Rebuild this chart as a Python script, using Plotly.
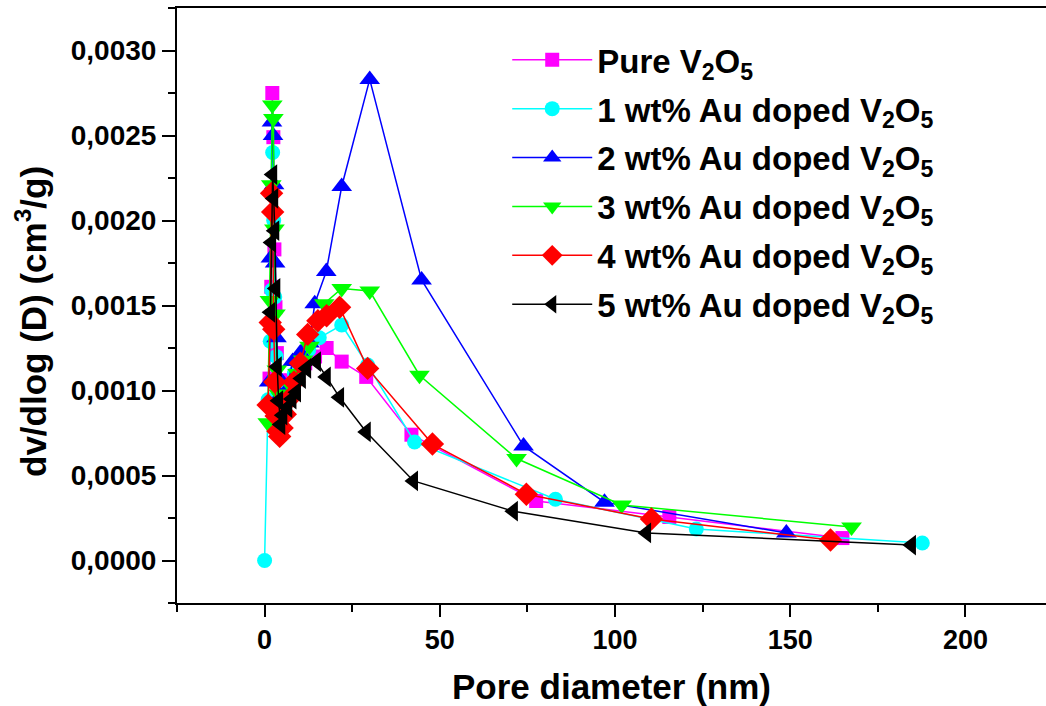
import plotly.graph_objects as go

# Pore size distribution (BJH) for pure and Au-doped V2O5
x_pure = [1.4, 1.9, 2.2, 2.5, 2.8, 3.1, 3.5, 4.0, 4.6, 5.4, 6.4, 7.7, 9.4, 11.6, 14.4, 17.7, 22.0, 29.0, 41.9, 77.5, 115.5, 164.9]
y_pure = [1.07, 1.61, 2.75, 2.49, 1.83, 1.49, 1.22, 1.06, 0.98, 0.94, 0.99, 1.06, 1.12, 1.16, 1.20, 1.25, 1.17, 1.08, 0.74, 0.35, 0.256, 0.132]

x_au1 = [0.0, 1.0, 1.6, 2.0, 2.3, 2.6, 2.9, 3.3, 3.8, 4.4, 5.1, 6.0, 7.1, 8.5, 10.3, 12.6, 15.6, 22.0, 29.4, 42.8, 83.0, 123.2, 187.7]
y_au1 = [0.0, 0.945, 1.29, 1.59, 2.40, 2.00, 1.55, 1.20, 1.02, 0.95, 0.92, 0.95, 1.02, 1.10, 1.17, 1.24, 1.31, 1.385, 1.15, 0.697, 0.36, 0.185, 0.103]

x_au2 = [1.3, 1.8, 2.1, 2.4, 2.7, 3.0, 3.4, 3.9, 4.5, 5.3, 6.3, 8.0, 10.2, 12.8, 14.3, 17.6, 22.0, 30.0, 44.8, 73.9, 97.0, 148.9]
y_au2 = [1.05, 1.78, 2.58, 2.50, 2.21, 1.75, 1.31, 1.08, 0.97, 0.95, 1.00, 1.17, 1.22, 1.28, 1.51, 1.70, 2.20, 2.83, 1.65, 0.674, 0.343, 0.162]

x_au3 = [0.9, 1.5, 1.9, 2.2, 2.5, 2.8, 3.1, 3.5, 4.0, 4.6, 5.4, 6.4, 7.7, 9.4, 11.0, 12.8, 17.0, 22.0, 30.0, 44.2, 71.9, 101.9, 167.5]
y_au3 = [0.81, 1.53, 2.21, 2.68, 2.60, 1.95, 1.45, 1.12, 0.98, 0.92, 0.90, 0.95, 1.02, 1.10, 1.18, 1.26, 1.51, 1.60, 1.585, 1.09, 0.60, 0.327, 0.197]

x_au4 = [1.0, 1.6, 2.0, 2.3, 2.6, 2.9, 3.3, 3.8, 4.3, 5.0, 5.9, 7.0, 8.4, 10.2, 12.3, 15.2, 17.7, 21.4, 29.4, 47.9, 74.7, 110.4, 161.5]
y_au4 = [0.915, 1.40, 2.16, 2.05, 1.36, 1.05, 0.85, 0.76, 0.73, 0.78, 0.86, 0.95, 1.05, 1.16, 1.33, 1.41, 1.44, 1.49, 1.13, 0.685, 0.39, 0.244, 0.121]

x_au5 = [1.7, 2.0, 2.3, 2.6, 2.9, 3.2, 3.6, 4.0, 4.6, 5.2, 6.6, 7.8, 9.1, 10.5, 12.0, 14.8, 17.6, 21.4, 29.0, 42.5, 71.0, 109.0, 184.6]
y_au5 = [1.46, 1.87, 2.27, 2.13, 1.94, 1.60, 1.14, 0.94, 0.80, 0.855, 0.90, 0.95, 0.99, 1.07, 1.13, 1.17, 1.08, 0.96, 0.756, 0.468, 0.29, 0.162, 0.091]

# values above are in units of 1e-3 cm3/g
SCALE = 1e-3

series = [
    ("Pure V<sub>2</sub>O<sub>5</sub>", x_pure, y_pure, "#FF00FF", "square", 14),
    ("1 wt% Au doped V<sub>2</sub>O<sub>5</sub>", x_au1, y_au1, "#00FFFF", "circle", 15),
    ("2 wt% Au doped V<sub>2</sub>O<sub>5</sub>", x_au2, y_au2, "#0000FF", "triangle-up", 18),
    ("3 wt% Au doped V<sub>2</sub>O<sub>5</sub>", x_au3, y_au3, "#00FF00", "triangle-down", 18),
    ("4 wt% Au doped V<sub>2</sub>O<sub>5</sub>", x_au4, y_au4, "#FF0000", "diamond", 18),
    ("5 wt% Au doped V<sub>2</sub>O<sub>5</sub>", x_au5, y_au5, "#000000", "triangle-left", 18),
]

fig = go.Figure()
for i, (name, xs, ys, color, sym, size) in enumerate(series):
    fig.add_trace(go.Scatter(
        x=xs, y=[v * SCALE for v in ys], name=name, mode="lines+markers",
        line=dict(color=color, width=1.5),
        marker=dict(symbol=sym, size=size, color=color, line=dict(width=0)),
        legendgroup=f"g{i}",
    ))

FONT = "Arial, Liberation Sans, sans-serif"

fig.update_layout(
    width=1046, height=706,
    margin=dict(l=177, r=0, t=8, b=103),
    paper_bgcolor="white", plot_bgcolor="white",
    separators=", ",
    font=dict(family=FONT, color="black", size=26, weight="bold"),
    showlegend=True,
    legend=dict(
        x=0.38, y=0.96, xanchor="left", yanchor="top",
        bgcolor="rgba(0,0,0,0)", borderwidth=0,
        font=dict(family=FONT, size=33, color="black", weight="bold"),
        tracegroupgap=3, itemwidth=80,
    ),
    xaxis=dict(
        range=[-25, 223], showgrid=False, zeroline=False,
        showline=True, linecolor="black", linewidth=2, mirror=True,
        ticks="outside", ticklen=12, tickwidth=2, tickcolor="black",
        tick0=0, dtick=50,
        minor=dict(ticks="outside", ticklen=7, tickwidth=2, tickcolor="black", dtick=25, tick0=0),
        tickfont=dict(family=FONT, size=27, weight="bold"),
        title=dict(text="Pore diameter (nm)", font=dict(family=FONT, size=35, weight="bold"), standoff=20),
    ),
    yaxis=dict(
        range=[-0.00025, 0.00325], showgrid=False, zeroline=False,
        showline=True, linecolor="black", linewidth=2,
        ticks="outside", ticklen=13, tickwidth=2, tickcolor="black",
        tick0=0, dtick=0.0005, tickformat=".4f",
        minor=dict(ticks="outside", ticklen=7, tickwidth=2, tickcolor="black", dtick=0.00025, tick0=0),
        tickfont=dict(family=FONT, size=28, weight="bold"),
    ),
    annotations=[dict(
        text="dv/dlog (D) (cm<sup>3</sup>/g)", textangle=-90,
        xref="paper", yref="paper", x=0, y=(603 - 322) / 595,
        xanchor="center", yanchor="middle", xshift=-146, showarrow=False,
        font=dict(family=FONT, size=35, color="black", weight="bold"),
    )],
)

fig.write_html("out.html")
